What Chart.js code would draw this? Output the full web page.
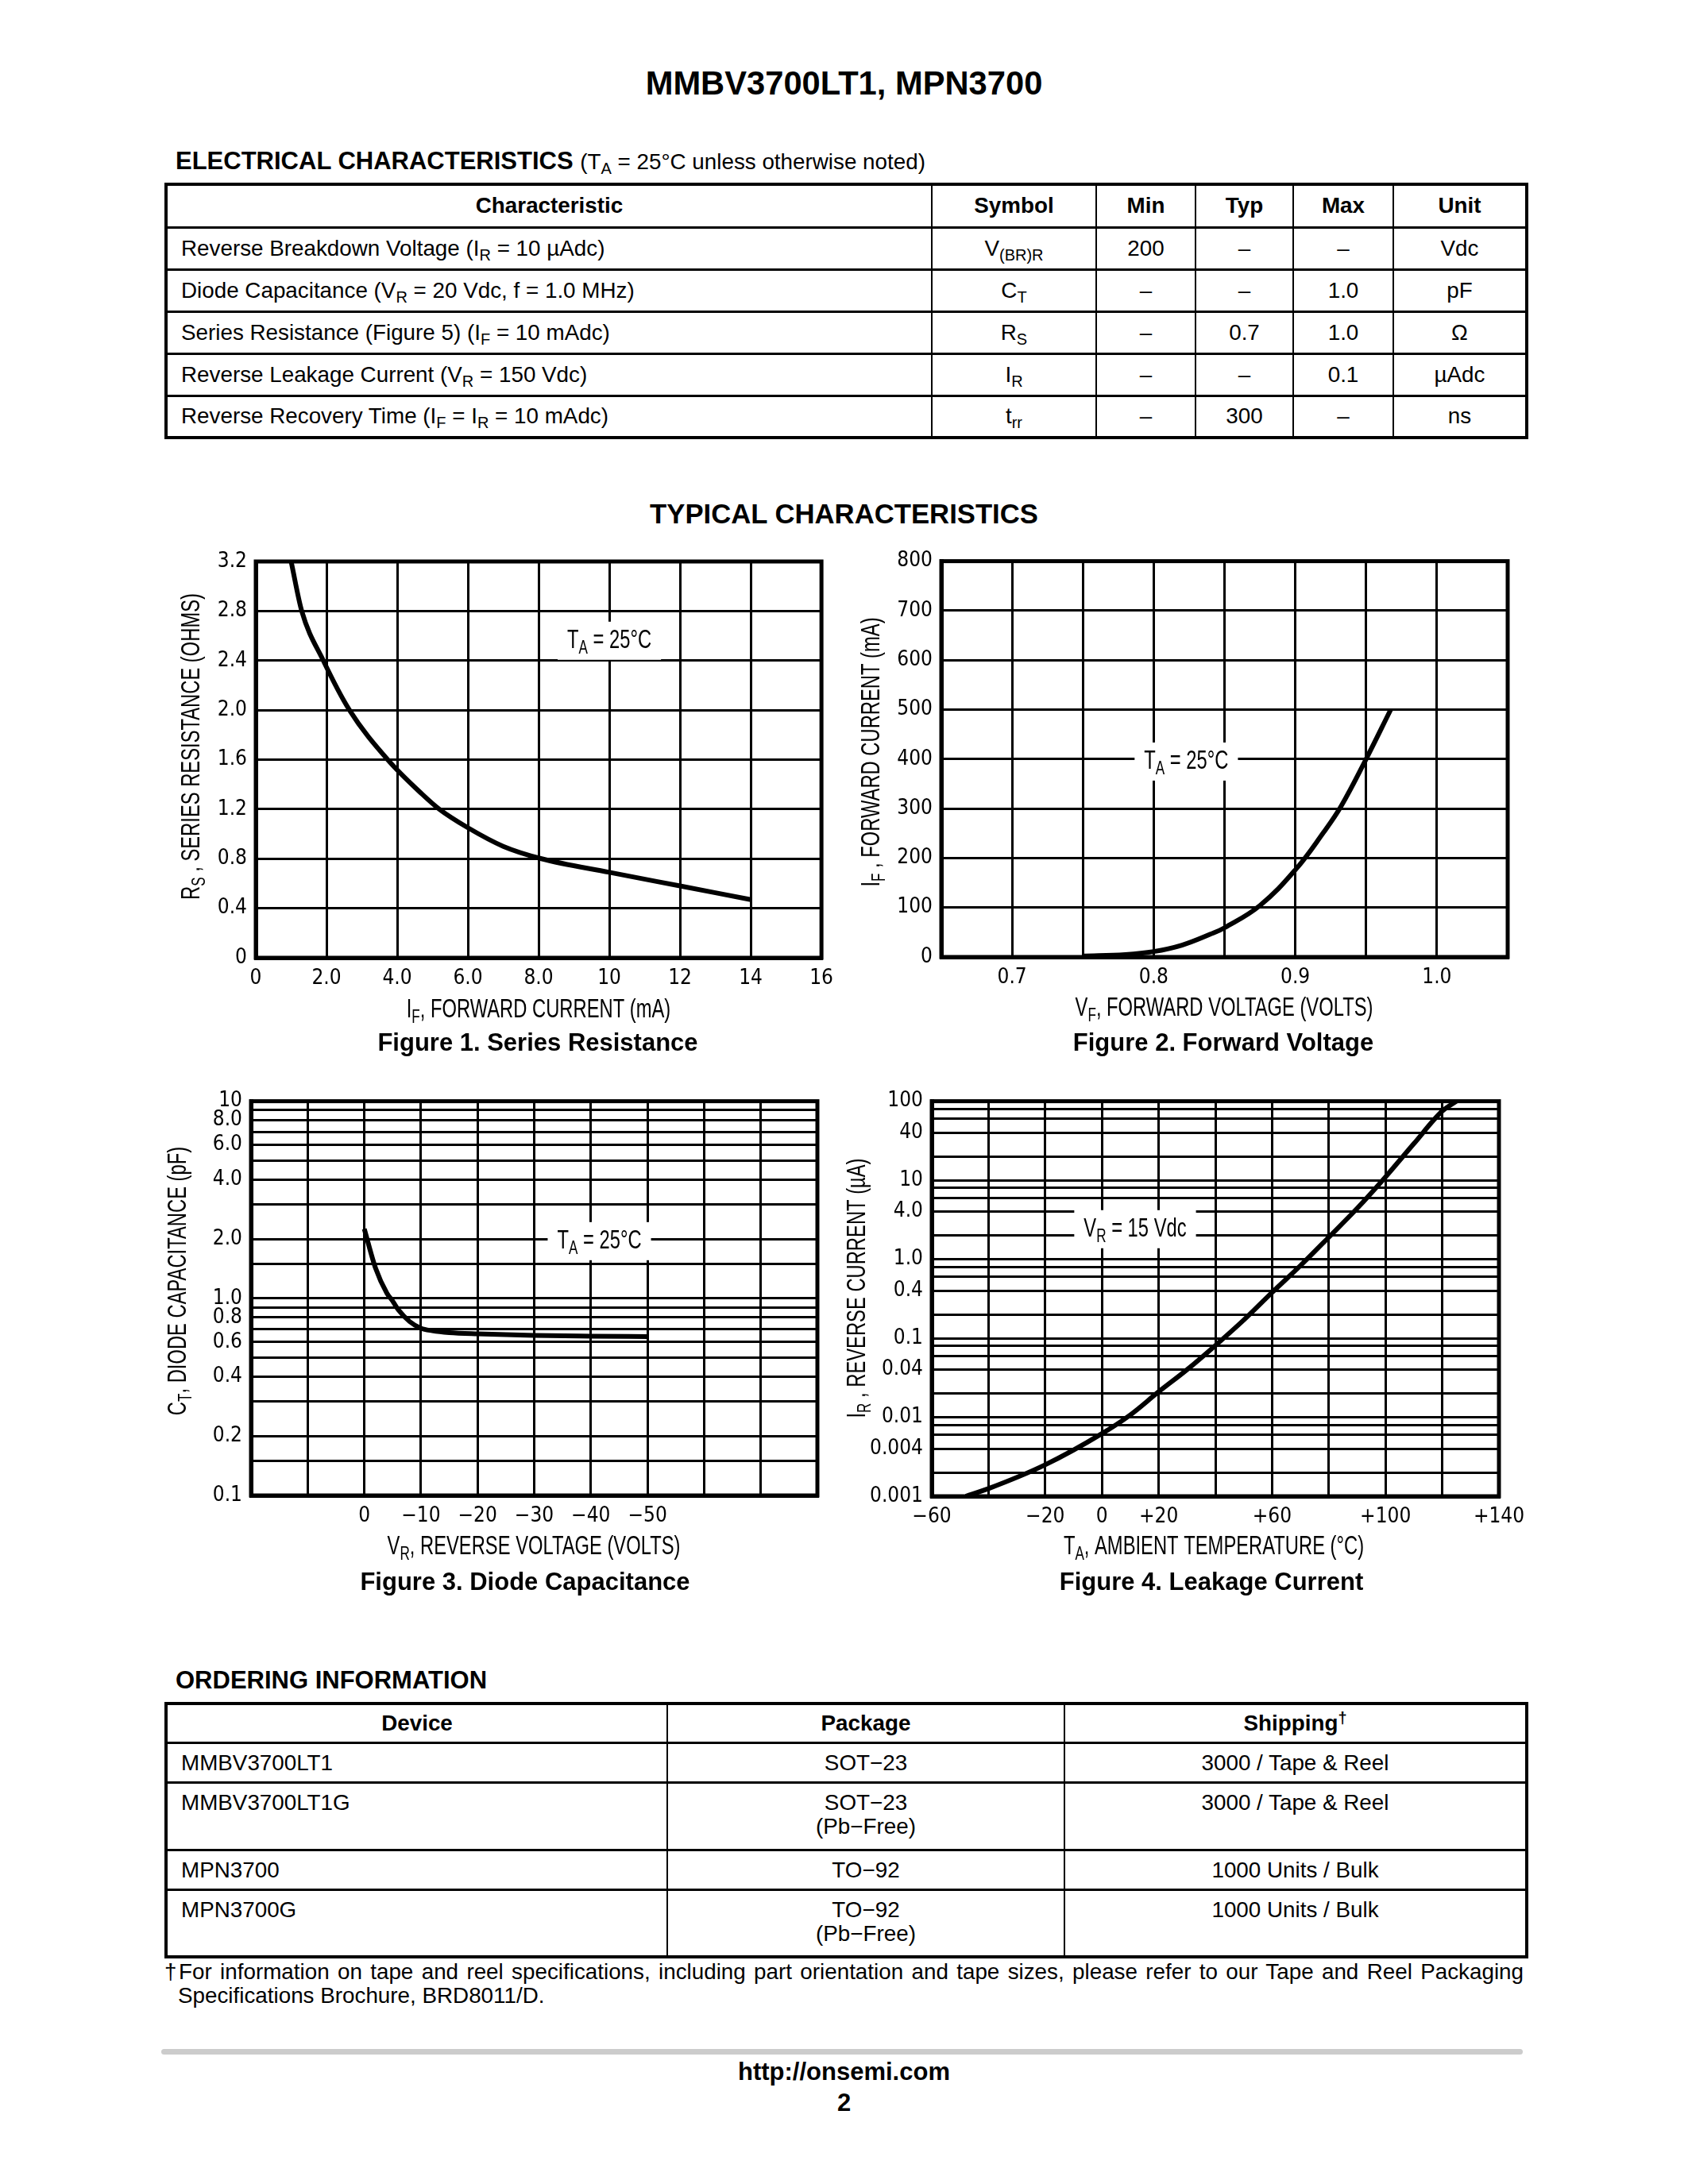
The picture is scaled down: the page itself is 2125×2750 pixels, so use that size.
<!DOCTYPE html>
<html lang="en">
<head>
<meta charset="UTF-8">
<title>MMBV3700LT1, MPN3700 - Typical Characteristics</title>
<script src="https://cdn.jsdelivr.net/npm/chart.js"></script>
<style>
    body {
        margin: 0;
        background: #fff;
        color: #000;
        font-family: 'Liberation Sans', Arial, Helvetica, sans-serif;
    }
    .page { position: relative; width: 2125px; height: 2750px; overflow: hidden; }
    .abs { position: absolute; white-space: nowrap; }
    .title { left: 0; width: 2125px; top: 82px; text-align: center; font-weight: bold; font-size: 41.7px; line-height: 46px; }
    .head { font-weight: bold; font-size: 31px; line-height: 34px; }
    .head span { font-weight: normal; font-size: 27.8px; }
    .center-head { left: 0; width: 2125px; top: 627px; text-align: center; font-weight: bold; font-size: 34.7px; line-height: 40px; }
    .caption { font-weight: bold; font-size: 31px; line-height: 36px; text-align: center; width: 700px; }
    sub { font-size: 0.72em; vertical-align: -0.3em; line-height: 0; }
    sup { font-size: 0.72em; vertical-align: 0.45em; line-height: 0; }
    table { position: absolute; border-collapse: collapse; table-layout: fixed; font-size: 27.8px; }
    table { border: 4px solid #000; }
    td, th { border-top: 3px solid #000; border-bottom: 3px solid #000; border-left: 2px solid #000; border-right: 2px solid #000; padding: 0 17px; text-align: center; line-height: 30px; }
    th { font-weight: bold; }
    td.l { text-align: left; }
    .spec tr { height: 53px; }
    .spec tr.hd { height: 54px; }
    .order td { vertical-align: top; padding-top: 9px; }
    .order tr.hd { height: 49px; }
    .order tr.one { height: 50px; }
    .order tr.two { height: 85px; }
    .foot { font-size: 27.8px; line-height: 30px; }
    .bar { left: 203px; top: 2580px; width: 1714px; height: 7px; background: #cccccc; border-radius: 4px; }
    .url { left: 0; width: 2125px; text-align: center; font-weight: bold; font-size: 31px; line-height: 34px; }
    canvas { position: absolute; }
</style>
</head>
<body>
<div class="page">
    <div class="abs title">MMBV3700LT1, MPN3700</div>

    <div class="abs head" style="left:221px; top:186px;">ELECTRICAL CHARACTERISTICS <span>(T<sub>A</sub> = 25°C unless otherwise noted)</span></div>

    <table class="spec" style="left:207px; top:230px; width:1713px;">
        <colgroup>
            <col style="width:964px"><col style="width:207px"><col style="width:125px">
            <col style="width:123px"><col style="width:126px"><col style="width:168px">
        </colgroup>
        <tr class="hd"><th>Characteristic</th><th>Symbol</th><th>Min</th><th>Typ</th><th>Max</th><th>Unit</th></tr>
        <tr><td class="l">Reverse Breakdown Voltage (I<sub>R</sub> = 10 µAdc)</td><td>V<sub>(BR)R</sub></td><td>200</td><td>–</td><td>–</td><td>Vdc</td></tr>
        <tr><td class="l">Diode Capacitance (V<sub>R</sub> = 20 Vdc, f = 1.0 MHz)</td><td>C<sub>T</sub></td><td>–</td><td>–</td><td>1.0</td><td>pF</td></tr>
        <tr><td class="l">Series Resistance (Figure 5) (I<sub>F</sub> = 10 mAdc)</td><td>R<sub>S</sub></td><td>–</td><td>0.7</td><td>1.0</td><td>Ω</td></tr>
        <tr><td class="l">Reverse Leakage Current (V<sub>R</sub> = 150 Vdc)</td><td>I<sub>R</sub></td><td>–</td><td>–</td><td>0.1</td><td>µAdc</td></tr>
        <tr><td class="l">Reverse Recovery Time (I<sub>F</sub> = I<sub>R</sub> = 10 mAdc)</td><td>t<sub>rr</sub></td><td>–</td><td>300</td><td>–</td><td>ns</td></tr>
    </table>

    <div class="abs center-head">TYPICAL CHARACTERISTICS</div>

    <canvas id="fig1" width="880" height="620" style="left:180px; top:680px;"></canvas>
    <canvas id="fig2" width="880" height="620" style="left:1060px; top:680px;"></canvas>
    <canvas id="fig3" width="880" height="620" style="left:180px; top:1360px;"></canvas>
    <canvas id="fig4" width="880" height="620" style="left:1060px; top:1360px;"></canvas>

    <div class="abs caption" style="left:327px; top:1295px;">Figure 1. Series Resistance</div>
    <div class="abs caption" style="left:1190px; top:1295px;">Figure 2. Forward Voltage</div>
    <div class="abs caption" style="left:311px; top:1974px;">Figure 3. Diode Capacitance</div>
    <div class="abs caption" style="left:1175px; top:1974px;">Figure 4. Leakage Current</div>

    <div class="abs head" style="left:221px; top:2099px;">ORDERING INFORMATION</div>

    <table class="order" style="left:207px; top:2143px; width:1713px;">
        <colgroup><col style="width:631px"><col style="width:500px"><col style="width:582px"></colgroup>
        <tr class="hd"><th>Device</th><th>Package</th><th>Shipping<sup>†</sup></th></tr>
        <tr class="one"><td class="l">MMBV3700LT1</td><td>SOT−23</td><td>3000 / Tape &amp; Reel</td></tr>
        <tr class="two"><td class="l">MMBV3700LT1G</td><td>SOT−23<br>(Pb−Free)</td><td>3000 / Tape &amp; Reel</td></tr>
        <tr class="one"><td class="l">MPN3700</td><td>TO−92</td><td>1000 Units / Bulk</td></tr>
        <tr class="two"><td class="l">MPN3700G</td><td>TO−92<br>(Pb−Free)</td><td>1000 Units / Bulk</td></tr>
    </table>

    <div class="abs foot" style="left:207px; top:2468px; width:1711px; white-space:normal; text-align:justify; text-align-last:justify;">†For information on tape and reel specifications, including part orientation and tape sizes, please refer to our Tape and Reel Packaging</div>
    <div class="abs foot" style="left:224px; top:2498px;">Specifications Brochure, BRD8011/D.</div>

    <div class="abs bar"></div>
    <div class="abs url" style="top:2592px;">http://onsemi.com</div>
    <div class="abs url" style="top:2631px;">2</div>
</div>

<script>
    // Figure 1 - series resistance vs forward current
    const fig1Current = [1.0, 1.30, 1.91, 2.65, 3.73, 4.71, 5.19, 6.0, 7.0, 8.08, 10, 12, 14];
    const fig1Resistance = [3.2, 2.8, 2.4, 2.0, 1.6, 1.32, 1.2, 1.05, 0.9, 0.8, 0.69, 0.58, 0.47];
    const fig1XTicks = [0, 2, 4, 6, 8, 10, 12, 14, 16];
    const fig1XLabels = ['0', '2.0', '4.0', '6.0', '8.0', '10', '12', '14', '16'];
    const fig1YTicks = [0, 0.4, 0.8, 1.2, 1.6, 2.0, 2.4, 2.8, 3.2];
    const fig1YLabels = ['0', '0.4', '0.8', '1.2', '1.6', '2.0', '2.4', '2.8', '3.2'];

    // Figure 2 - forward current vs forward voltage
    const fig2Voltage = [0.75, 0.78, 0.80, 0.82, 0.84, 0.85, 0.875, 0.90, 0.92, 0.9324, 0.95, 0.9674];
    const fig2Current = [2, 5, 11, 24, 46, 59, 104, 176, 252, 305, 400, 500];
    const fig2XTicks = [0.65, 0.70, 0.75, 0.80, 0.85, 0.90, 0.95, 1.00, 1.05];
    const fig2XLabels = ['', '0.7', '', '0.8', '', '0.9', '', '1.0', ''];
    const fig2YTicks = [0, 100, 200, 300, 400, 500, 600, 700, 800];
    const fig2YLabels = ['0', '100', '200', '300', '400', '500', '600', '700', '800'];

    // Figure 3 - diode capacitance vs reverse voltage
    const fig3Voltage = [0, -2, -4, -5, -6, -8, -10, -12, -15, -20, -30, -40, -50];
    const fig3Capacitance = [2.25, 1.42, 1.06, 0.97, 0.875, 0.763, 0.705, 0.685, 0.67, 0.66, 0.648, 0.643, 0.64];
    const fig3XTicks = [20, 10, 0, -10, -20, -30, -40, -50, -60, -70, -80];
    const fig3XLabels = ['', '', '0', '−10', '−20', '−30', '−40', '−50', '', '', ''];
    const fig3YTicks = [0.1, 0.15, 0.2, 0.3, 0.4, 0.5, 0.6, 0.7, 0.8, 0.9, 1, 1.5, 2, 3, 4, 5, 6, 7, 8, 9, 10];
    const fig3YLabels = ['0.1', '', '0.2', '', '0.4', '', '0.6', '', '0.8', '', '1.0', '', '2.0', '', '4.0', '', '6.0', '', '8.0', '', '10'];

    // Figure 4 - leakage current vs ambient temperature
    const fig4Temp = [-48, -40, -20, 0, 10, 20, 30, 40, 50, 60, 70, 80, 90, 100, 110, 120, 125];
    const fig4Leakage = [0.001, 0.00125, 0.0025, 0.0062, 0.0107, 0.021, 0.04, 0.081, 0.17, 0.38, 0.83, 1.9, 4.4, 11, 29, 75, 100];
    const fig4XTicks = [-60, -40, -20, 0, 20, 40, 60, 80, 100, 120, 140];
    const fig4XLabels = ['−60', '', '−20', '0', '+20', '', '+60', '', '+100', '', '+140'];
    const fig4YTicks = [0.001, 0.002, 0.004, 0.006, 0.008, 0.01, 0.02, 0.04, 0.06, 0.08, 0.1, 0.2, 0.4, 0.6, 0.8,
                        1, 2, 4, 6, 8, 10, 20, 40, 60, 80, 100];
    const fig4YLabels = ['0.001', '', '0.004', '', '', '0.01', '', '0.04', '', '', '0.1', '', '0.4', '', '',
                         '1.0', '', '4.0', '', '', '10', '', '40', '', '', '100'];

    const CHART_FONT = "'DejaVu Sans Condensed', 'Liberation Sans', sans-serif";
    const TITLE_FONT = "'Liberation Sans', Arial, sans-serif";
    const SQUEEZE = 0.72;   // titles are set in a narrow face
    const TITLE_SIZE = 33;
    Chart.defaults.font.family = CHART_FONT;
    Chart.defaults.color = '#000';

    function fontStr(size) {
        return size + 'px ' + TITLE_FONT;
    }

    // text made of [text, isSubscript] pieces, squeezed horizontally
    function richWidth(ctx, parts, size) {
        let w = 0;
        for (const [t, sub] of parts) {
            ctx.font = fontStr(sub ? size * 0.72 : size);
            w += ctx.measureText(t).width;
        }
        return w * SQUEEZE;
    }

    function drawRich(ctx, parts, size, cx, cy) {
        ctx.save();
        ctx.translate(cx - richWidth(ctx, parts, size) / 2, cy);
        ctx.scale(SQUEEZE, 1);
        ctx.textAlign = 'left';
        ctx.textBaseline = 'middle';
        let x = 0;
        for (const [t, sub] of parts) {
            ctx.font = fontStr(sub ? size * 0.72 : size);
            ctx.fillText(t, x, sub ? size * 0.3 : 0);
            x += ctx.measureText(t).width;
        }
        ctx.restore();
    }

    const sheetPlugin = {
        id: 'sheet',
        afterDraw(chart, args, opts) {
            const ctx = chart.ctx;
            const a = chart.chartArea;
            ctx.save();
            if (opts.note) {
                const n = opts.note;
                const px = chart.scales.x.getPixelForValue(n.x);
                const py = chart.scales.y.getPixelForValue(n.y);
                const w = richWidth(ctx, n.parts, TITLE_SIZE) + 24;
                ctx.fillStyle = '#fff';
                ctx.fillRect(px - w / 2, py - 24, w, 48);
                ctx.fillStyle = '#000';
                drawRich(ctx, n.parts, TITLE_SIZE, px, py);
            }
            ctx.strokeStyle = '#000';
            ctx.lineWidth = 5;
            ctx.strokeRect(a.left, a.top, a.right - a.left, a.bottom - a.top);

            ctx.fillStyle = '#000';
            drawRich(ctx, opts.xTitle.parts, TITLE_SIZE, opts.xTitle.x, opts.xTitle.y);
            ctx.translate(opts.yTitle.x, opts.yTitle.y);
            ctx.rotate(-Math.PI / 2);
            drawRich(ctx, opts.yTitle.parts, TITLE_SIZE, 0, 0);
            ctx.restore();
        }
    };

    function axis(type, min, max, ticks, labels, fit, extra) {
        return Object.assign({
            type: type,
            min: min,
            max: max,
            afterBuildTicks: (s) => { s.ticks = ticks.map(v => ({ value: v })); },
            afterFit: fit,
            ticks: {
                autoSkip: false,
                maxRotation: 0,
                padding: 11,
                color: '#000',
                font: { size: 26 },
                callback: (v, i) => labels[i]
            },
            grid: { color: '#000', lineWidth: 3, drawTicks: false },
            border: { display: true, color: '#000', width: 5 }
        }, extra || {});
    }

    function buildChart(id, s) {
        new Chart(document.getElementById(id), {
            type: 'line',
            data: {
                datasets: [{
                    data: s.xs.map((x, i) => ({ x: x, y: s.ys[i] })),
                    borderColor: '#000',
                    borderWidth: 6,
                    pointRadius: 0,
                    fill: false,
                    cubicInterpolationMode: s.smooth || 'monotone',
                    tension: 0.4
                }]
            },
            options: {
                responsive: false,
                animation: false,
                devicePixelRatio: 1,
                layout: { padding: { left: 0, top: s.area.top, right: s.area.right, bottom: 0 } },
                plugins: {
                    legend: { display: false },
                    tooltip: { enabled: false },
                    sheet: { note: s.note, xTitle: s.xTitle, yTitle: s.yTitle }
                },
                scales: {
                    x: axis('linear', s.xMin, s.xMax, s.xTicks, s.xLabels,
                        (sc) => { sc.height = s.area.bottom; }, { reverse: !!s.reverse }),
                    y: axis(s.yType, s.yMin, s.yMax, s.yTicks, s.yLabels,
                        (sc) => { sc.width = s.area.left; })
                }
            },
            plugins: [sheetPlugin]
        });
    }

    const TA = [['T', false], ['A', true], [' = 25°C', false]];

    buildChart('fig1', {
        xs: fig1Current, ys: fig1Resistance,
        xMin: 0, xMax: 16, xTicks: fig1XTicks, xLabels: fig1XLabels,
        yType: 'linear', yMin: 0, yMax: 3.2, yTicks: fig1YTicks, yLabels: fig1YLabels,
        area: { left: 142, top: 27, right: 25, bottom: 94 },
        note: { x: 10, y: 2.56, parts: TA },
        xTitle: { x: 498, y: 592, parts: [['I', false], ['F', true], [', FORWARD CURRENT (mA)', false]] },
        yTitle: { x: 62, y: 260, parts: [['R', false], ['S', true], [' , SERIES RESISTANCE (OHMS)', false]] }
    });

    buildChart('fig2', {
        xs: fig2Voltage, ys: fig2Current, smooth: 'default',
        xMin: 0.65, xMax: 1.05, xTicks: fig2XTicks, xLabels: fig2XLabels,
        yType: 'linear', yMin: 0, yMax: 800, yTicks: fig2YTicks, yLabels: fig2YLabels,
        area: { left: 125, top: 24, right: 42, bottom: 95 },
        note: { x: 0.823, y: 395, parts: TA },
        xTitle: { x: 481, y: 590, parts: [['V', false], ['F', true], [', FORWARD VOLTAGE (VOLTS)', false]] },
        yTitle: { x: 38, y: 267, parts: [['I', false], ['F', true], [' , FORWARD CURRENT (mA)', false]] }
    });

    buildChart('fig3', {
        xs: fig3Voltage, ys: fig3Capacitance,
        xMin: -80, xMax: 20, reverse: true, xTicks: fig3XTicks, xLabels: fig3XLabels,
        yType: 'logarithmic', yMin: 0.1, yMax: 10, yTicks: fig3YTicks, yLabels: fig3YLabels,
        area: { left: 136, top: 20, right: 31, bottom: 97 },
        note: { x: -41.5, y: 1.95, parts: TA },
        xTitle: { x: 492, y: 588, parts: [['V', false], ['R', true], [', REVERSE VOLTAGE (VOLTS)', false]] },
        yTitle: { x: 45, y: 253, parts: [['C', false], ['T', true], [', DIODE CAPACITANCE (pF)', false]] }
    });

    buildChart('fig4', {
        xs: fig4Temp, ys: fig4Leakage,
        xMin: -60, xMax: 140, xTicks: fig4XTicks, xLabels: fig4XLabels,
        yType: 'logarithmic', yMin: 0.001, yMax: 100, yTicks: fig4YTicks, yLabels: fig4YLabels,
        area: { left: 113, top: 22, right: 53, bottom: 96 },
        note: { x: 11.7, y: 2.4, parts: [['V', false], ['R', true], [' = 15 Vdc', false]] },
        xTitle: { x: 468, y: 588, parts: [['T', false], ['A', true], [', AMBIENT TEMPERATURE (°C)', false]] },
        yTitle: { x: 20, y: 262, parts: [['I', false], ['R', true], [' , REVERSE CURRENT (µA)', false]] }
    });
</script>
</body>
</html>
